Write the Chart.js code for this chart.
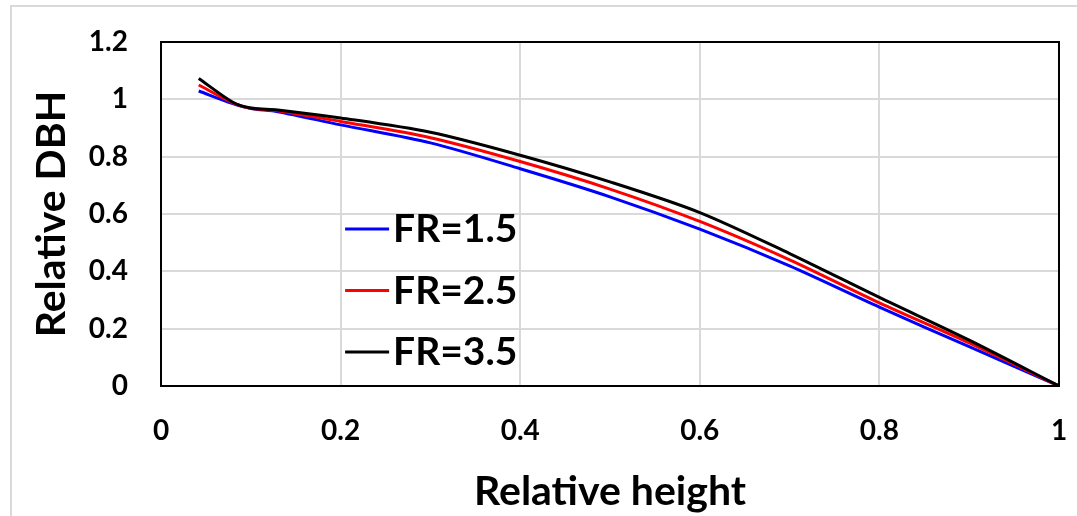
<!DOCTYPE html>
<html>
<head>
<meta charset="utf-8">
<script src="https://cdn.jsdelivr.net/npm/chart.js@4.4.1/dist/chart.umd.min.js"></script>
<style>
  html, body { margin: 0; padding: 0; background: #fff; }
  #wrap { position: relative; width: 1077px; height: 516px; overflow: hidden; }
  #frame { position: absolute; left: 10px; top: 5px; width: 1100px; height: 600px; border: 2px solid #d9d9d9; box-sizing: border-box; }
  canvas { position: absolute; left: 0; top: 0; }
</style>
</head>
<body>
<div id="wrap">
  <div id="frame"></div>
  <canvas id="chart" width="1077" height="516"></canvas>
</div>
<script>
// relative height (x) shared by all three curves
const heights = [0.042, 0.08, 0.1, 0.13, 0.2, 0.3, 0.4, 0.5, 0.6, 0.7, 0.8, 0.9, 1.0];

const fr15 = [1.029, 0.985, 0.968, 0.957, 0.911, 0.848, 0.758, 0.66, 0.547, 0.419, 0.275, 0.137, 0];
const fr25 = [1.05, 0.988, 0.969, 0.96, 0.923, 0.866, 0.783, 0.687, 0.574, 0.44, 0.29, 0.15, 0];
const fr35 = [1.073, 0.99, 0.97, 0.963, 0.935, 0.885, 0.805, 0.712, 0.605, 0.462, 0.309, 0.16, 0];

const seriesNames = ["FR=1.5", "FR=2.5", "FR=3.5"];
const seriesColors = ["#0000ff", "#ff0000", "#000000"];

const xTickLabels = ["0", "0.2", "0.4", "0.6", "0.8", "1"];
const yTickLabels = ["0", "0.2", "0.4", "0.6", "0.8", "1", "1.2"];

const FONT = "Lato, 'Open Sans', sans-serif";

function toPoints(ys) {
    return heights.map((h, i) => ({ x: h, y: ys[i] }));
}

// legend drawn inside the plot, like the original
const innerLegend = {
    id: "innerLegend",
    afterDraw(chart) {
        const ctx = chart.ctx;
        const area = chart.chartArea;
        const sx = chart.scales.x, sy = chart.scales.y;
        // border round the plot area
        ctx.save();
        ctx.strokeStyle = "#000";
        ctx.lineWidth = 2;
        ctx.strokeRect(area.left, area.top, area.right - area.left, area.bottom - area.top);

        const x0 = sx.getPixelForValue(0.205);
        const rowTop = sy.getPixelForValue(0.548);
        const rowGap = sy.getPixelForValue(0.548) - sy.getPixelForValue(0.7625);
        ctx.font = "bold 39px " + FONT;
        ctx.textBaseline = "middle";
        ctx.fillStyle = "#000";
        seriesNames.forEach((name, i) => {
            const y = rowTop + i * rowGap;
            ctx.strokeStyle = seriesColors[i];
            ctx.lineWidth = 3;
            ctx.beginPath();
            ctx.moveTo(x0, y);
            ctx.lineTo(x0 + 44, y);
            ctx.stroke();
            ctx.fillText(name, x0 + 48, y + 1);
        });
        ctx.restore();
    }
};

const datasets = [fr15, fr25, fr35].map((ys, i) => ({
    label: seriesNames[i],
    data: toPoints(ys),
    borderColor: seriesColors[i],
    backgroundColor: seriesColors[i],
    borderWidth: 3,
    pointRadius: 0,
    showLine: true,
    tension: 0.3,
    order: 3 - i
}));

new Chart(document.getElementById("chart"), {
    type: "scatter",
    data: { datasets: datasets },
    options: {
        responsive: false,
        animation: false,
        layout: { padding: { top: 42, right: 18, left: 0, bottom: 0 } },
        plugins: {
            legend: { display: false },
            tooltip: { enabled: false }
        },
        scales: {
            x: {
                type: "linear",
                min: 0, max: 1,
                ticks: {
                    stepSize: 0.2,
                    padding: 28,
                    color: "#000",
                    font: { family: FONT, size: 28, weight: "bold" },
                    maxRotation: 0,
                    callback: (v, i) => xTickLabels[i]
                },
                grid: { color: "#d9d9d9", lineWidth: 2, drawTicks: false },
                border: { display: true, color: "#000", width: 2 },
                title: {
                    display: true,
                    text: "Relative height",
                    color: "#000",
                    font: { family: FONT, size: 41, weight: "bold" },
                    padding: { top: 4, bottom: 0 }
                },
                afterFit: s => {
                    s.height = 130;
                    s.paddingLeft = 0;
                    s.paddingRight = 0;
                }
            },
            y: {
                type: "linear",
                min: 0, max: 1.2,
                ticks: {
                    stepSize: 0.2,
                    padding: 33,
                    color: "#000",
                    font: { family: FONT, size: 28, weight: "bold" },
                    callback: (v, i) => yTickLabels[i]
                },
                grid: { color: "#d9d9d9", lineWidth: 2, drawTicks: false },
                border: { display: true, color: "#000", width: 2 },
                title: {
                    display: true,
                    text: "Relative DBH",
                    color: "#000",
                    font: { family: FONT, size: 41, weight: "bold" },
                    padding: { top: 27, bottom: 0 }
                },
                afterFit: s => {
                    s.width = 161;
                    s.paddingTop = 0;
                    s.paddingBottom = 0;
                }
            }
        }
    },
    plugins: [innerLegend]
});
</script>
</body>
</html>
